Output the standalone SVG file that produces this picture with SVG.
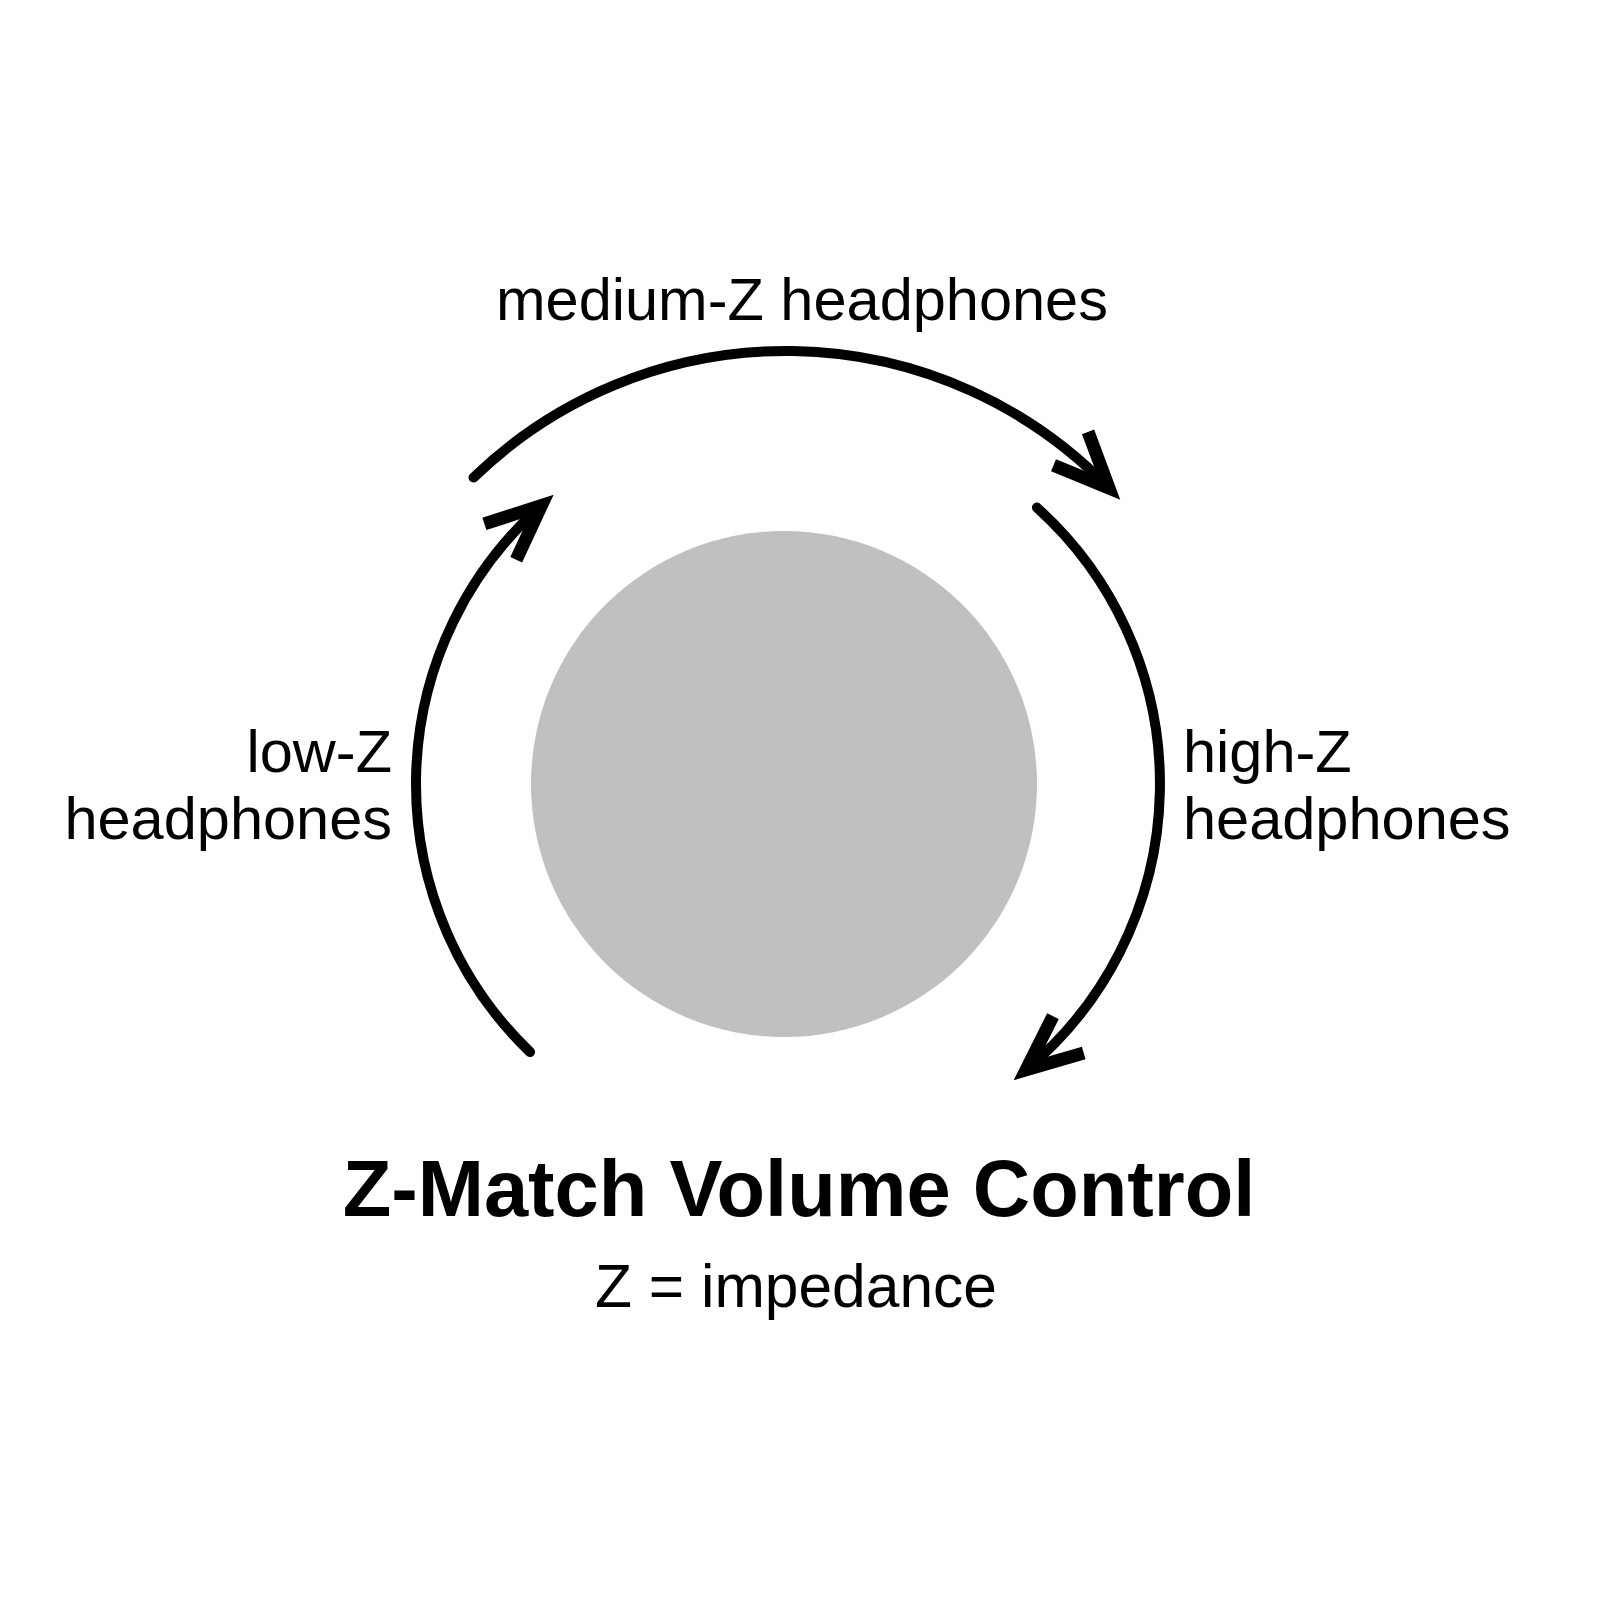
<svg xmlns="http://www.w3.org/2000/svg" width="1600" height="1600" viewBox="0 0 1600 1600">
<style>
.lbl{font-family:"Liberation Sans",Arial,Helvetica,sans-serif;font-size:59.5px;fill:#000}
.title{font-family:"Liberation Sans",Arial,Helvetica,sans-serif;font-size:79.5px;font-weight:bold;fill:#000}
.arc{fill:none;stroke:#000;stroke-width:10;stroke-linecap:round;marker-end:url(#arrow)}
</style>
<defs>
<marker id="arrow" markerUnits="userSpaceOnUse" orient="auto" refX="0" refY="0" markerWidth="200" markerHeight="200" viewBox="-100 -100 200 200" overflow="visible">
<path d="M -55 -24 L 0 0 L -55 24" fill="none" stroke="#000" stroke-width="13" stroke-linejoin="miter" stroke-miterlimit="10" stroke-linecap="butt"/>
</marker>
</defs>
<rect width="1600" height="1600" fill="#fff"/>
<g id="knob">
<circle cx="784" cy="784" r="253" fill="#c0c0c0"/>
</g>
<g id="connectors">
<path id="arc-low" class="arc" d="M 530.1 1052.1 A 372 372 0 0 1 541.5 505.4"/>
<path id="arc-medium" class="arc" d="M 473.5 477.6 A 449 449 0 0 1 1109 488.1"/>
<path id="arc-high" class="arc" d="M 1036.9 507.6 A 372 372 0 0 1 1026.1 1069.8"/>
</g>
<g id="label-medium">
<text class="lbl" x="802" y="320" text-anchor="middle">medium-Z headphones</text>
</g>
<g id="label-low">
<text class="lbl" x="392" y="772" text-anchor="end">low-Z</text>
<text class="lbl" x="392" y="839" text-anchor="end">headphones</text>
</g>
<g id="label-high">
<text class="lbl" x="1183" y="772">high-Z</text>
<text class="lbl" x="1183" y="839">headphones</text>
</g>
<g id="title">
<text class="title" x="799" y="1216" text-anchor="middle">Z-Match Volume Control</text>
<text class="lbl" x="796" y="1307" text-anchor="middle" style="font-size:60.5px">Z = impedance</text>
</g>
</svg>
